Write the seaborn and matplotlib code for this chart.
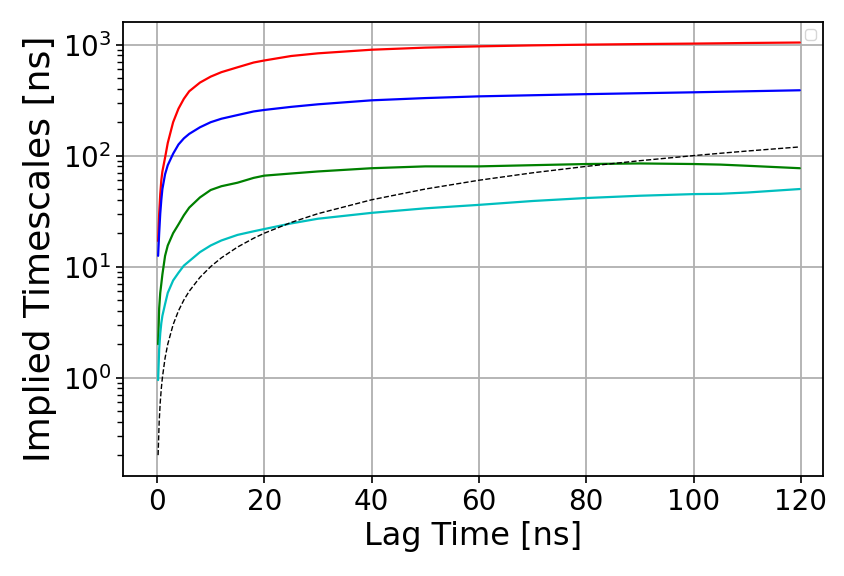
import numpy as np
import pandas as pd
import seaborn as sns
import matplotlib.pyplot as plt
from matplotlib.ticker import LogLocator, NullFormatter

lag = [0.2, 0.4, 0.6, 0.8, 1, 1.5, 2, 3, 4, 5, 6, 8, 10, 12, 15, 18, 20,
       25, 30, 40, 50, 60, 70, 80, 90, 100, 105, 110, 119.8]

its_1 = [17, 30, 45, 60, 72, 96, 130, 200, 265, 325, 380, 455, 515, 565, 625, 690, 720,
         790, 835, 900, 940, 965, 985, 1000, 1012, 1022, 1028, 1035, 1045]
its_2 = [12.5, 20, 30, 40, 50, 68, 82, 104, 126, 143, 157, 180, 200, 215, 232, 250, 258,
         275, 290, 315, 330, 342, 350, 358, 365, 372, 376, 380, 388]
its_3 = [2.0, 4.2, 5.8, 7.0, 8.5, 12.5, 15.5, 20, 24, 29, 34, 42, 49, 53, 57, 63, 66,
         69, 72, 77, 80, 80, 82, 84, 85, 84, 83, 81, 77]
its_4 = [0.95, 1.8, 2.5, 3.1, 3.6, 4.6, 5.8, 7.5, 8.8, 10.2, 11.2, 13.5, 15.5, 17.2, 19.3, 20.8, 21.8,
         24.5, 27, 30.5, 33.5, 36, 39, 41.5, 43.5, 45, 45.3, 46.5, 50]

colors = ['red', 'blue', 'green', 'c']

sns.set_style('ticks', {'axes.grid': True, 'grid.color': '#b0b0b0', 'axes.edgecolor': 'black',
                        'text.color': 'black', 'axes.labelcolor': 'black',
                        'xtick.color': 'black', 'ytick.color': 'black'})
plt.rcParams['font.family'] = ['DejaVu Sans']
plt.rcParams['ytick.minor.visible'] = True

fig, ax = plt.subplots(figsize=(8.44, 5.76), dpi=100)
fig.subplots_adjust(left=0.146, right=0.975, top=0.962, bottom=0.174)

for its, c in zip([its_1, its_2, its_3, its_4], colors):
    df = pd.DataFrame({'lag': lag, 'its': its})
    sns.lineplot(data=df, x='lag', y='its', color=c, linewidth=1.6, ax=ax, legend=False)

# lag time itself (timescales below this line are not resolved)
df_lag = pd.DataFrame({'lag': lag, 'its': lag})
sns.lineplot(data=df_lag, x='lag', y='its', color='black', linewidth=1.0,
             linestyle='--', dashes=(3, 2), ax=ax, legend=False)

ax.set_yscale('log')
ax.yaxis.set_minor_locator(LogLocator(base=10, subs=np.arange(2, 10), numticks=20))
ax.yaxis.set_minor_formatter(NullFormatter())
ax.set_xlim(-6.3, 124.1)
ax.grid(True, which='major', color='#b0b0b0', linewidth=1.3)
ax.grid(False, which='minor')
for s in ax.spines.values():
    s.set_linewidth(1.3)
ax.tick_params(axis='both', which='major', labelsize=20, length=5, width=1.2, direction='out')
ax.tick_params(axis='y', which='minor', length=4, width=1.0, left=True, color='black')
ax.set_xticks([0, 20, 40, 60, 80, 100, 120])
ax.set_xlabel('Lag Time [ns]', fontsize=23)
ax.set_ylabel('Implied Timescales [ns]', fontsize=26)
ax.legend(loc='upper right')

fig.savefig('out.png', dpi=100)
